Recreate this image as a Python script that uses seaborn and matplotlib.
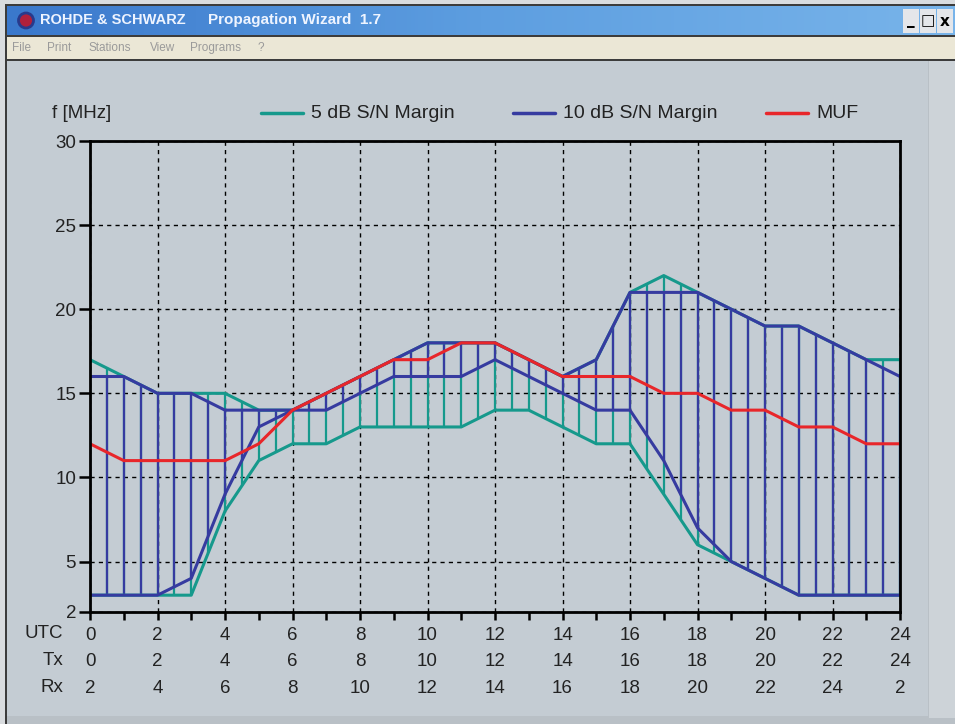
import numpy as np
import pandas as pd
import matplotlib
matplotlib.use("Agg")
import matplotlib.pyplot as plt
import seaborn as sns
from matplotlib.patches import Rectangle, Ellipse
from matplotlib.lines import Line2D

# hourly values (UTC 0..24)
hours = list(range(25))
muf = [12, 11, 11, 11, 11, 12, 14, 15, 16, 17, 17, 18, 18, 17, 16, 16, 16, 15, 15, 14, 14, 13, 13, 12, 12]
snr5_hi = [17, 16, 15, 15, 15, 14, 14, 15, 16, 17, 18, 18, 18, 17, 16, 17, 21, 22, 21, 20, 19, 19, 18, 17, 17]
snr5_lo = [3, 3, 3, 3, 8, 11, 12, 12, 13, 13, 13, 13, 14, 14, 13, 12, 12, 9, 6, 5, 4, 3, 3, 3, 3]
snr10_hi = [16, 16, 15, 15, 14, 14, 14, 15, 16, 17, 18, 18, 18, 17, 16, 17, 21, 21, 21, 20, 19, 19, 18, 17, 16]
snr10_lo = [3, 3, 3, 4, 9, 13, 14, 14, 15, 16, 16, 16, 17, 16, 15, 14, 14, 11, 7, 5, 4, 3, 3, 3, 3]

utc_ticks = list(range(0, 25, 2))
tx_labels = list(range(0, 25, 2))
rx_labels = [2, 4, 6, 8, 10, 12, 14, 16, 18, 20, 22, 24, 2]
y_ticks = [2, 5, 10, 15, 20, 25, 30]

df = pd.DataFrame({"hour": hours, "muf": muf, "snr5_hi": snr5_hi, "snr5_lo": snr5_lo,
                   "snr10_hi": snr10_hi, "snr10_lo": snr10_lo})

TEAL = "#16998c"
BLUE = "#363ba0"
RED = "#e8262a"
BG = "#c4ccd3"

W, H = 955, 724

def fx(px):
    return px / W

def fy(py):
    return 1 - py / H

sns.set_theme(style="ticks")
plt.rcParams['font.family'] = ['Liberation Sans', 'DejaVu Sans']

fig = plt.figure(figsize=(W / 100, H / 100), dpi=100)
fig.patch.set_facecolor("#d9dcdf")

# --- window frame ---
def frect(x0, y0, x1, y1, color, z=-5):
    fig.patches.append(Rectangle((fx(x0), fy(y1)), fx(x1) - fx(x0), fy(y0) - fy(y1),
                                 transform=fig.transFigure, facecolor=color,
                                 edgecolor="none", zorder=z))

frect(5, 4, 955, 724, "#3c3c3c")
frect(7, 61, 955, 724, "#b9c0c6")
frect(7, 61, 928, 716, BG)
frect(929, 61, 955, 718, "#cdd3d8")
frect(7, 37, 955, 59, "#ebe7d6")

# title bar gradient
tb = fig.add_axes([fx(7), fy(35), fx(955) - fx(7), fy(6) - fy(35)])
grad = np.linspace(0, 1, 256).reshape(1, -1)
tb.imshow(grad, aspect="auto", cmap=matplotlib.colors.LinearSegmentedColormap.from_list(
    "tb", ["#3a78cc", "#5d9ee0", "#78b4ea"]), extent=(0, 1, 0, 1))
tb.set_axis_off()
tb.set_xlim(0, 1)
tb.set_ylim(0, 1)
tb.add_patch(Ellipse((19 / 948, 0.5), 15 / 948, 15 / 29, facecolor="#b0203c",
                     edgecolor="#283a8c", lw=2))
fig.text(fx(40), fy(20), "ROHDE & SCHWARZ", color="#eef4ff", fontsize=10.5,
         fontweight="bold", va="center", ha="left")
fig.text(fx(208), fy(20), "Propagation Wizard  1.7", color="#eef4ff", fontsize=11,
         fontweight="bold", va="center", ha="left")
for bx, sym in [(903, "_"), (920, "\u25a1"), (937, "x")]:
    frect(bx, 9, bx + 16, 33, "#e4e6ea", z=3)
    fig.text(fx(bx + 8), fy(21), sym, color="black", fontsize=11, fontweight="bold",
             ha="center", va="center", zorder=4, family=["DejaVu Sans"])

for mx, name in [(12, "File"), (47, "Print"), (88, "Stations"), (150, "View"),
                 (190, "Programs"), (258, "?")]:
    fig.text(fx(mx), fy(48), name, color="#9a9a9a", fontsize=8.5, va="center", ha="left")

# --- chart ---
ax = fig.add_axes([fx(90), fy(612), fx(900) - fx(90), fy(141) - fy(612)])
ax.set_facecolor(BG)

# vertical hatching every half hour inside both margin bands
half = np.arange(0, 24.01, 0.5)
ax.vlines(half, np.interp(half, df.hour, df.snr5_lo), np.interp(half, df.hour, df.snr5_hi),
          color=TEAL, lw=1.6, zorder=2)
ax.vlines(half, np.interp(half, df.hour, df.snr10_lo), np.interp(half, df.hour, df.snr10_hi),
          color=BLUE, lw=1.6, zorder=3)

for col in ["snr5_lo", "snr5_hi"]:
    sns.lineplot(data=df, x="hour", y=col, color=TEAL, lw=2.2, ax=ax, zorder=4)
for col in ["snr10_lo", "snr10_hi"]:
    sns.lineplot(data=df, x="hour", y=col, color=BLUE, lw=2.2, ax=ax, zorder=5)
sns.lineplot(data=df, x="hour", y="muf", color=RED, lw=2.2, ax=ax, zorder=6)

ax.set_xlim(0, 24)
ax.set_ylim(2, 30)
ax.set_xlabel("")
ax.set_ylabel("")

ax.set_xticks(utc_ticks)
ax.set_xticklabels([f"{u}\n{t}\n{r}" for u, t, r in zip(utc_ticks, tx_labels, rx_labels)],
                   linespacing=1.75)
ax.set_xticks(range(1, 24, 2), minor=True)
ax.set_yticks(y_ticks)
ax.tick_params(axis="x", which="both", direction="out", length=6, width=1.8,
               color="black", labelsize=13.5, pad=4.5, labelcolor="#222222")
ax.tick_params(axis="y", direction="out", length=8, width=1.8, color="black",
               labelsize=13.5, pad=2, labelcolor="#222222")
ax.grid(True, which="major", color="black", lw=1.0, linestyle=(0, (3, 3)))
for s in ax.spines.values():
    s.set_visible(True)
    s.set_color("black")
    s.set_linewidth(2)
    s.set_zorder(7)

fig.text(fx(63), fy(625), "UTC\nTx\nRx", ha="right", va="top", fontsize=13.5,
         linespacing=1.75, color="#222222")
fig.text(fx(52), fy(113), "f [MHz]", ha="left", va="center", fontsize=13.5, color="#222222")

# legend strip above the plot
for x0, label, c in [(261, "5 dB S/N Margin", TEAL), (513, "10 dB S/N Margin", BLUE),
                     (766, "MUF", RED)]:
    fig.add_artist(Line2D([fx(x0), fx(x0 + 42)], [fy(113), fy(113)], color=c, lw=2.5,
                          transform=fig.transFigure))
    fig.text(fx(x0 + 50), fy(113), label, ha="left", va="center", fontsize=14,
             color="#222222")

fig.savefig("out.png", dpi=100, facecolor=fig.get_facecolor())
